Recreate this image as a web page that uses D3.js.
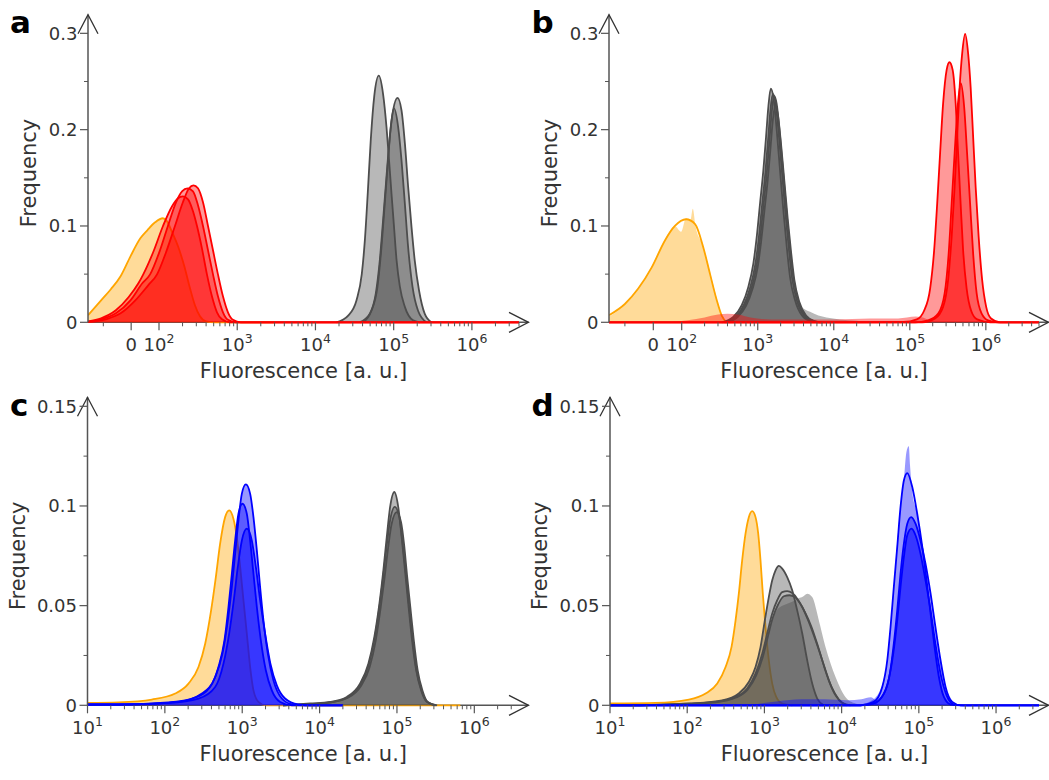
<!DOCTYPE html>
<html>
<head>
<meta charset="utf-8">
<script src="https://d3js.org/d3.v7.min.js"></script>
<style>
  body { margin: 0; background: #fff; }
  text { font-family: 'DejaVu Sans', sans-serif; }
</style>
</head>
<body>
<div id="canvas"></div>
<script>
// ---------- data: [fluorescence, frequency] ----------

// panel a
var orangeA = [[-155,.0073],[-108,.0228],[-73,.0343],[-38,.0478],[-2.5,.0685],[33,.0872],[58,.0955],[86,.1038],[112,.108],[126,.105],[147,.0935],[175,.0789],[209,.0592],[249,.0353],[288,.0177],[334,.0062],[398,.001],[519,0],[3000,0]];
var redA1 = [[-155,.001],[-108,.0042],[-55,.0125],[-9.5,.026],[26,.0405],[43.5,.0498],[79,.0727],[112.5,.1],[147,.1205],[175,.1288],[202,.1308],[235,.1277],[272,.1153],[306,.1],[354,.0768],[410,.0498],[475,.027],[551,.0104],[638,.0031],[807,0],[4e6,0]];
var redA2 = [[-155,.0005],[-108,.0031],[-55,.0093],[-2.5,.0228],[40,.0405],[68,.0498],[103,.0748],[130,.1],[165,.1246],[197,.136],[231,.1391],[272,.136],[315,.1215],[365,.1],[423,.0748],[490,.0498],[567,.027],[657,.0104],[761,.0026],[963,0],[4e6,0]];
var redA3 = [[-155,.0004],[-91,.0031],[-38,.0093],[15,.0228],[61,.0384],[93,.0498],[123,.0727],[160,.1],[202,.1246],[242,.1391],[276,.1422],[315,.1391],[365,.1246],[423,.1],[490,.0748],[567,.0498],[657,.027],[761,.0104],[882,.0026],[1115,0],[4e6,0]];
var grayA1 = [[1.86e4,0],[2.62e4,.007],[3.35e4,.023],[3.91e4,.05],[4.28e4,.085],[4.67e4,.135],[5.1e4,.19],[5.65e4,.235],[6.45e4,.256],[7.32e4,.237],[8.09e4,.203],[8.73e4,.168],[9.37e4,.134],[1.01e5,.099],[1.09e5,.064],[1.2e5,.037],[1.39e5,.016],[1.77e5,.002],[2.15e5,0]];
var grayA2 = [[3.69e4,0],[4.95e4,.009],[5.91e4,.03],[6.64e4,.064],[7.32e4,.106],[8.09e4,.151],[8.91e4,.192],[9.82e4,.22],[1.12e5,.233],[1.26e5,.22],[1.39e5,.186],[1.53e5,.141],[1.69e5,.099],[1.86e5,.064],[2.11e5,.033],[2.49e5,.009],[3.04e5,0]];
var grayA3 = [[4.06e4,0],[5.2e4,.012],[6.21e4,.037],[6.98e4,.078],[7.69e4,.123],[8.47e4,.168],[9.18e4,.203],[1.01e5,.222],[1.14e5,.203],[1.26e5,.168],[1.39e5,.123],[1.53e5,.078],[1.74e5,.037],[2.05e5,.012],[2.62e5,0]];

// panel b
var orangeB = [[-156,.0073],[-100,.019],[-53,.035],[-5.6,.057],[41,.085],[76,.1],[114,.107],[150,.102],[192,.078],[236,.05],[289,.023],[336,.007],[391,0]];
var orangeHistB = [[-156,.006],[-100,.018],[-53,.035],[-5.6,.058],[41,.086],[76,.1],[98,.094],[114,.108],[130,.106],[140,.118],[152,.1],[192,.079],[236,.052],[289,.025],[336,.008],[370,0]];
var grayB1 = [[336,0],[477,.0055],[616,.0177],[752,.0367],[875,.061],[970,.0886],[1072,.1233],[1185,.1578],[1286,.1924],[1379,.2236],[1483,.2427],[1604,.234],[1778,.1994],[1965,.1578],[2173,.1163],[2409,.0782],[2661,.047],[3097,.0228],[3793,.0073],[4877,.0013],[6270,0]];
var grayB2 = [[357,0],[507,.0055],[654,.0177],[799,.0367],[929,.06],[1030,.087],[1138,.121],[1258,.155],[1366,.189],[1464,.219],[1575,.237],[1703,.229],[1888,.195],[2087,.155],[2307,.114],[2558,.077],[2826,.046],[3289,.022],[4028,.007],[5180,.0013],[6660,0]];
var grayB3 = [[371,0],[527,.0055],[681,.0177],[831,.036],[967,.059],[1072,.086],[1185,.12],[1309,.153],[1421,.187],[1524,.217],[1639,.235],[1772,.227],[1965,.193],[2171,.153],[2401,.113],[2662,.076],[2940,.046],[3422,.022],[4191,.007],[5390,.0013],[6930,0]];
var grayB4 = [[383,0],[543,.0055],[702,.017],[857,.035],[997,.057],[1105,.083],[1221,.115],[1350,.147],[1465,.179],[1571,.208],[1689,.225],[1827,.217],[2025,.185],[2238,.147],[2475,.108],[2744,.073],[3031,.044],[3527,.021],[4320,.007],[5555,.0013],[7140,0]];
var grayHistB1 = [[336,0],[477,.0055],[616,.0177],[752,.0367],[875,.061],[970,.0886],[1072,.1233],[1185,.1578],[1286,.1924],[1379,.2236],[1483,.2427],[1604,.234],[1778,.1994],[1965,.1578],[2173,.1163],[2409,.0782],[2661,.048],[3097,.027],[3793,.016],[4877,.011],[6270,.007],[8000,.005],[1.2e4,.003],[2e4,.0015],[3e4,0]];
var redB1 = [[-156,0],[1e4,0],[8.24e4,.0003],[1.236e5,.003],[1.54e5,.012],[1.85e5,.035],[2.09e5,.075],[2.29e5,.123],[2.5e5,.175],[2.74e5,.227],[3.05e5,.262],[3.32e5,.27],[3.66e5,.262],[4.01e5,.227],[4.32e5,.175],[4.66e5,.123],[5.02e5,.075],[5.59e5,.035],[6.41e5,.012],[7.69e5,.003],[1.14e6,0],[5e6,0]];
var redB2 = [[-156,0],[1e4,0],[1.45e5,0],[2.15e5,.004],[2.74e5,.016],[3.19e5,.044],[3.55e5,.089],[3.88e5,.14],[4.19e5,.192],[4.52e5,.244],[4.88e5,.279],[5.34e5,.2995],[5.85e5,.279],[6.31e5,.244],[6.81e5,.192],[7.35e5,.14],[8.04e5,.089],[8.94e5,.044],[1.01e6,.016],[1.17e6,.004],[1.54e6,0],[5e6,0]];
var redB3 = [[-156,0],[1e4,0],[1.17e5,0],[1.74e5,.002],[2.36e5,.009],[2.87e5,.03],[3.24e5,.071],[3.55e5,.123],[3.88e5,.175],[4.26e5,.224],[4.69e5,.248],[5.18e5,.224],[5.67e5,.175],[6.21e5,.123],[6.81e5,.071],[7.57e5,.03],[8.81e5,.009],[1.07e6,.002],[1.45e6,0],[5e6,0]];
var redBgB = [[60,0],[120,.002],[200,.005],[300,.008],[400,.009],[550,.008],[800,.005],[1500,.003],[4000,.003],[1e4,.003],[3e4,.004],[7e4,.004],[1.2e5,.006],[1.6e5,.004],[2e5,0]];

// panel c
var orangeC = [[10,.0012],[25.2,.0015],[67.9,.0029],[136,.0059],[202,.0109],[272,.0192],[332,.0309],[396,.0476],[456,.0643],[518,.0811],[601,.0944],[678,.0978],[769,.0936],[851,.0844],[940,.0694],[1037,.0527],[1146,.036],[1265,.0192],[1397,.0075],[1620,.0017],[1976,0],[6.6e5,0]];
var blueC1 = [[10,.0004],[41.3,.0005],[150,.0017],[301,.0059],[447,.0142],[555,.0259],[652,.0426],[734,.0593],[810,.0761],[894,.0928],[989,.1062],[1114,.1108],[1265,.1062],[1397,.0944],[1545,.0777],[1703,.0593],[1880,.0426],[2143,.0259],[2531,.0125],[3249,.0034],[4375,.0005],[6500,0],[2e4,0]];
var blueC2 = [[10,.0004],[25.2,.0004],[111,.0014],[246,.0039],[385,.0092],[493,.0192],[589,.0326],[664,.0493],[734,.066],[810,.0827],[894,.0961],[1007,.1011],[1146,.0961],[1265,.0827],[1397,.066],[1545,.0493],[1740,.0326],[2018,.0176],[2412,.0075],[3090,.0017],[4375,0],[2e4,0]];
var blueC3 = [[10,.0004],[25.2,.0004],[111,.0012],[272,.0034],[447,.0092],[572,.0209],[678,.036],[778,.0527],[877,.0694],[989,.0827],[1146,.0886],[1330,.0827],[1500,.0694],[1703,.0527],[1976,.036],[2314,.0209],[2799,.01],[3581,.0034],[5321,.0004],[7000,0],[2e4,0]];
var grayC1 = [[3373,0],[7534,.0009],[1.37e4,.0017],[2.25e4,.0042],[3.33e4,.0109],[4.27e4,.0209],[5.1e4,.0343],[5.93e4,.051],[6.67e4,.0677],[7.38e4,.0844],[8.15e4,.0994],[9.25e4,.107],[1.04e5,.0994],[1.15e5,.0844],[1.27e5,.0677],[1.4e5,.051],[1.55e5,.0343],[1.77e5,.0176],[2.05e5,.0075],[2.43e5,.0017],[3.1e5,0]];
var grayC2 = [[3373,0],[5598,.0003],[1.37e4,.0015],[2.26e4,.0038],[3.33e4,.01],[4.27e4,.0196],[5.1e4,.0326],[5.93e4,.0491],[6.67e4,.0652],[7.38e4,.0802],[8.15e4,.0928],[9.37e4,.0995],[1.08e5,.0938],[1.18e5,.0817],[1.3e5,.0667],[1.43e5,.0502],[1.58e5,.0341],[1.79e5,.0176],[2.08e5,.0075],[2.45e5,.0018],[3.2e5,0]];
var grayC3 = [[3373,0],[5598,.0003],[1.41e4,.0015],[2.33e4,.0038],[3.44e4,.0098],[4.43e4,.0191],[5.29e4,.0321],[6.14e4,.0486],[6.92e4,.0642],[7.67e4,.0787],[8.51e4,.0908],[9.93e4,.0969],[1.13e5,.0918],[1.24e5,.0802],[1.35e5,.0652],[1.49e5,.0491],[1.64e5,.0336],[1.85e5,.0176],[2.14e5,.0073],[2.52e5,.0015],[3.3e5,0]];

// panel d
var orangeD = [[10,.0009],[38.8,.0012],[105,.0029],[173,.0059],[245,.0109],[314,.0192],[375,.0293],[423,.0426],[466,.056],[515,.0727],[569,.0861],[628,.0944],[695,.0974],[767,.0944],[831,.0861],[890,.0727],[953,.056],[1033,.0393],[1140,.0226],[1262,.0109],[1422,.0042],[1701,.0009],[2291,0]];
var grayD1 = [[10,0],[23.6,0],[105,.0009],[284,.0025],[466,.0059],[628,.0117],[767,.0192],[890,.0292],[1012,.0426],[1140,.0543],[1262,.0627],[1393,.0677],[1538,.0699],[1701,.0686],[1972,.0643],[2291,.0577],[2659,.0476],[3090,.036],[3581,.0226],[4159,.0109],[4830,.0034],[5875,0]];
var grayD2 = [[10,0],[19.4,0],[64,.0005],[233,.0017],[423,.0042],[598,.0084],[767,.0159],[937,.0259],[1086,.036],[1262,.046],[1465,.0527],[1701,.0568],[1972,.0573],[2291,.0563],[2659,.0535],[3090,.0493],[3758,.0418],[4592,.0326],[5610,.0226],[6823,.0125],[8337,.005],[1.02e4,.0012],[1.3e4,0]];
var grayD3 = [[10,0],[19.4,0],[64,.0004],[233,.0015],[431,.0039],[609,.008],[783,.015],[953,.0242],[1106,.0343],[1285,.044],[1510,.0507],[1784,.0547],[2113,.0552],[2476,.0543],[2875,.0513],[3337,.0468],[4074,.0393],[4977,.0292],[6058,.0184],[7396,.0092],[9204,.0029],[1.18e4,0]];
var grayHistD = [[10,0],[64,.0005],[233,.0017],[423,.0042],[598,.0084],[767,.0159],[937,.0259],[1086,.035],[1262,.043],[1465,.048],[1701,.05],[1972,.051],[2291,.052],[2659,.0535],[3090,.0543],[3581,.056],[4159,.0543],[5070,.0426],[6180,.0292],[8340,.0142],[1.12e4,.0042],[1.51e4,.0009],[2e4,0]];
var blueD1 = [[10,0],[1.76e4,0],[2.61e4,.0017],[3.36e4,.0092],[3.9e4,.0226],[4.3e4,.0393],[4.74e4,.0593],[5.25e4,.0794],[5.79e4,.0994],[6.4e4,.1128],[7.08e4,.1165],[8.22e4,.1095],[9.53e4,.0961],[1.11e5,.0794],[1.26e5,.0627],[1.42e5,.046],[1.6e5,.0292],[1.82e5,.0142],[2.11e5,.0042],[2.58e5,.0004],[3.47e5,0],[4e6,0]];
var blueD2 = [[10,0],[1.76e4,0],[2.61e4,.0009],[3.52e4,.0059],[4.21e4,.0159],[4.74e4,.0309],[5.25e4,.0476],[5.79e4,.066],[6.4e4,.0811],[7.08e4,.0911],[7.97e4,.0944],[9.06e4,.0911],[1.05e5,.0827],[1.22e5,.0711],[1.42e5,.056],[1.64e5,.0393],[1.91e5,.0226],[2.22e5,.0092],[2.71e5,.0017],[3.47e5,0],[4e6,0]];
var blueD3 = [[10,0],[1.76e4,0],[2.37e4,.0005],[3.19e4,.0034],[3.96e4,.0109],[4.66e4,.0259],[5.25e4,.0426],[5.79e4,.0593],[6.4e4,.0744],[7.08e4,.0853],[8.05e4,.0886],[9.06e4,.0853],[1.05e5,.0761],[1.22e5,.0627],[1.42e5,.0476],[1.64e5,.0309],[1.91e5,.0159],[2.29e5,.005],[2.84e5,.0005],[3.83e5,0],[4e6,0]];
var blueHistD = [[1.5e4,0],[2.37e4,.002],[3.19e4,.008],[3.9e4,.024],[4.3e4,.04],[4.74e4,.06],[5.25e4,.082],[5.79e4,.1],[6.4e4,.113],[6.9e4,.127],[7.41e4,.13],[7.7e4,.12],[8.22e4,.107],[9.53e4,.096],[1.11e5,.08],[1.26e5,.063],[1.42e5,.046],[1.6e5,.03],[1.82e5,.015],[2.11e5,.005],[2.6e5,.001],[3.5e5,0]];
var blueLowD = [[600,0],[1500,.002],[3000,.003],[6000,.003],[1.2e4,.0025],[1.8e4,.003],[2.4e4,.004],[3e4,0]];

// tick labels
var yTicksAB = [0, 0.1, 0.2, 0.3], yLabelsAB = ['0', '0.1', '0.2', '0.3'], yMinorAB = [0.05, 0.15, 0.25];
var yTicksCD = [0, 0.05, 0.1, 0.15], yLabelsCD = ['0', '0.05', '0.1', '0.15'], yMinorCD = [0.025, 0.075, 0.125];
var xTicksAB = [0, 100, 1e3, 1e4, 1e5, 1e6], xExpAB = [null, 2, 3, 4, 5, 6];
var xTicksCD = [10, 100, 1e3, 1e4, 1e5, 1e6], xExpCD = [1, 2, 3, 4, 5, 6];

var ORANGE = '#ffa500', RED = '#ff0000', BLUE = '#0000ff', GRAY = '#4d4d4d';

// ---------- layout ----------
var panels = [
  {letter:'a', kind:'bi', left:88, x100:159, right:519, xMin:-155, xMax:4e6, top:23.7, bottom:322.3, yMax:0.31,
   yTicks:yTicksAB, yLabels:yLabelsAB, yMinor:yMinorAB, xTicks:xTicksAB, xExp:xExpAB, letterX:10, letterY:33, ylabDX:-52.5,
   series:[
     {color:ORANGE, fills:[orangeA], lines:[orangeA]},
     {color:GRAY, fills:[grayA1, grayA2, grayA3], lines:[grayA1, grayA2, grayA3]},
     {color:RED, fills:[redA1, redA2, redA3], lines:[redA1, redA2, redA3]}
   ]},
  {letter:'b', kind:'bi', left:609, x100:681.7, right:1039, xMin:-156, xMax:5e6, top:23.7, bottom:322.3, yMax:0.31,
   yTicks:yTicksAB, yLabels:yLabelsAB, yMinor:yMinorAB, xTicks:xTicksAB, xExp:xExpAB, letterX:531.5, letterY:33, ylabDX:-52.5,
   series:[
     {color:ORANGE, fills:[orangeHistB], lines:[orangeB]},
     {color:GRAY, fills:[grayHistB1, grayB2, grayB4], lines:[grayB1, grayB2, grayB3, grayB4]},
     {color:RED, fills:[redBgB, redB1, redB2, redB3], lines:[redB1, redB2, redB3]}
   ]},
  {letter:'c', kind:'log', left:87.5, right:519, xMin:10, xMax:3.78e6, top:406.3, bottom:705.3, yMax:0.15,
   yTicks:yTicksCD, yLabels:yLabelsCD, yMinor:yMinorCD, xTicks:xTicksCD, xExp:xExpCD, letterX:10, letterY:416, ylabDX:-63,
   series:[
     {color:ORANGE, fills:[orangeC], lines:[orangeC]},
     {color:GRAY, fills:[grayC1, grayC2, grayC3], lines:[grayC1, grayC2, grayC3]},
     {color:BLUE, fills:[blueC1, blueC2, blueC3], lines:[blueC1, blueC2, blueC3]}
   ]},
  {letter:'d', kind:'log', left:610, right:1039, xMin:10, xMax:3.6e6, top:406.3, bottom:705.3, yMax:0.15,
   yTicks:yTicksCD, yLabels:yLabelsCD, yMinor:yMinorCD, xTicks:xTicksCD, xExp:xExpCD, letterX:531.5, letterY:416, ylabDX:-63,
   series:[
     {color:ORANGE, fills:[orangeD], lines:[orangeD]},
     {color:GRAY, fills:[grayD1, grayHistD, grayD3], lines:[grayD1, grayD2, grayD3]},
     {color:BLUE, fills:[blueLowD, blueHistD, blueD2, blueD3], lines:[blueD1, blueD2, blueD3]}
   ]}
];

var svg = d3.select('#canvas').append('svg')
    .attr('width', 1049)
    .attr('height', 780);

var defs = svg.append('defs');
var AXIS = '#555', TXT = '#333';

panels.forEach(drawPanel);

function minorTicks(hi, startExp){
  var out = [];
  for (var e = startExp; Math.pow(10, e) < hi; e++){
    for (var k = 2; k <= 9; k++){
      var v = k * Math.pow(10, e);
      if (v <= hi) out.push(v);
    }
  }
  return out;
}

function drawPanel(p){
  var x, xMinor;
  if (p.kind === 'bi'){
    // linear below 100, log above
    var xLin = d3.scaleLinear().domain([p.xMin, 100]).range([p.left, p.x100]);
    var xLog = d3.scaleLog().domain([100, p.xMax]).range([p.x100, p.right]);
    x = function(v){ return v < 100 ? xLin(v) : xLog(v); };
    xMinor = [-100].concat(minorTicks(p.xMax, 2));
  } else {
    x = d3.scaleLog().domain([p.xMin, p.xMax]).range([p.left, p.right]);
    xMinor = minorTicks(p.xMax, 1);
  }
  var y = d3.scaleLinear().domain([0, p.yMax]).range([p.bottom, p.top]);

  var g = svg.append('g');

  // x axis line + arrow (under the curves)
  g.append('line')
    .attr('x1', p.left).attr('x2', p.right + 9.5)
    .attr('y1', p.bottom).attr('y2', p.bottom)
    .attr('stroke', AXIS).attr('stroke-width', 1.5);
  g.append('path')
    .attr('d', 'M' + (p.right - 10) + ',' + (p.bottom - 10) + 'L' + (p.right + 9.5) + ',' + p.bottom + 'L' + (p.right - 10) + ',' + (p.bottom + 10))
    .attr('fill', 'none').attr('stroke', '#333').attr('stroke-width', 1.3);

  // curves
  var clipId = 'clip-' + p.letter;
  defs.append('clipPath').attr('id', clipId).append('rect')
    .attr('x', p.left).attr('y', p.top - 30)
    .attr('width', p.right - p.left).attr('height', p.bottom - p.top + 33);
  var plot = g.append('g').attr('clip-path', 'url(#' + clipId + ')');

  var area = d3.area().curve(d3.curveMonotoneX)
    .x(function(d){ return x(d[0]); })
    .y0(y(0))
    .y1(function(d){ return y(d[1]); });
  var line = d3.line().curve(d3.curveMonotoneX)
    .x(function(d){ return x(d[0]); })
    .y(function(d){ return y(d[1]); });

  p.series.forEach(function(s){
    plot.selectAll(null).data(s.fills).enter().append('path')
      .attr('d', area)
      .attr('fill', s.color)
      .attr('fill-opacity', 0.4);
    plot.selectAll(null).data(s.lines).enter().append('path')
      .attr('d', line)
      .attr('fill', 'none')
      .attr('stroke', s.color)
      .attr('stroke-width', 1.8);
  });

  // y axis line + arrow
  g.append('line')
    .attr('x1', p.left).attr('x2', p.left)
    .attr('y1', p.bottom).attr('y2', p.top - 9)
    .attr('stroke', AXIS).attr('stroke-width', 1.5);
  g.append('path')
    .attr('d', 'M' + (p.left - 10) + ',' + (p.top + 10) + 'L' + p.left + ',' + (p.top - 9) + 'L' + (p.left + 10) + ',' + (p.top + 10))
    .attr('fill', 'none').attr('stroke', '#333').attr('stroke-width', 1.3);

  // y ticks
  g.selectAll(null).data(p.yTicks).enter().append('line')
    .attr('x1', p.left - 8).attr('x2', p.left)
    .attr('y1', function(d){ return y(d); }).attr('y2', function(d){ return y(d); })
    .attr('stroke', AXIS).attr('stroke-width', 1.2);
  g.selectAll(null).data(p.yMinor).enter().append('line')
    .attr('x1', p.left - 4).attr('x2', p.left)
    .attr('y1', function(d){ return y(d); }).attr('y2', function(d){ return y(d); })
    .attr('stroke', AXIS).attr('stroke-width', 1);
  g.selectAll(null).data(p.yTicks).enter().append('text')
    .attr('x', p.left - 10.5)
    .attr('y', function(d){ return y(d); })
    .attr('dy', '0.36em')
    .attr('text-anchor', 'end')
    .attr('font-size', 18)
    .attr('fill', TXT)
    .text(function(d, i){ return p.yLabels[i]; });

  // x ticks
  g.selectAll(null).data(p.xTicks).enter().append('line')
    .attr('x1', function(d){ return x(d); }).attr('x2', function(d){ return x(d); })
    .attr('y1', p.bottom).attr('y2', p.bottom + 8)
    .attr('stroke', AXIS).attr('stroke-width', 1.2);
  g.selectAll(null).data(xMinor).enter().append('line')
    .attr('x1', function(d){ return x(d); }).attr('x2', function(d){ return x(d); })
    .attr('y1', p.bottom).attr('y2', p.bottom + 4)
    .attr('stroke', AXIS).attr('stroke-width', 1);
  p.xTicks.forEach(function(v, i){
    var t = g.append('text')
      .attr('x', x(v)).attr('y', p.bottom + 28.5)
      .attr('text-anchor', 'middle')
      .attr('font-size', 18)
      .attr('fill', TXT);
    if (p.xExp[i] === null){
      t.text('0');
    } else {
      t.append('tspan').text('10');
      t.append('tspan').attr('dy', -7.5).attr('font-size', 12.5).text(p.xExp[i]);
    }
  });

  // axis titles
  g.append('text')
    .attr('x', (p.left + p.right) / 2).attr('y', p.bottom + 55.5)
    .attr('text-anchor', 'middle')
    .attr('font-size', 21)
    .attr('fill', TXT)
    .text('Fluorescence [a. u.]');
  g.append('text')
    .attr('transform', 'translate(' + (p.left + p.ylabDX) + ',' + ((p.top + p.bottom) / 2) + ') rotate(-90)')
    .attr('text-anchor', 'middle')
    .attr('font-size', 21)
    .attr('fill', TXT)
    .text('Frequency');

  // panel letter
  g.append('text')
    .attr('x', p.letterX).attr('y', p.letterY)
    .attr('font-size', 31)
    .attr('font-weight', 'bold')
    .attr('fill', '#000')
    .text(p.letter);
}
</script>
</body>
</html>
